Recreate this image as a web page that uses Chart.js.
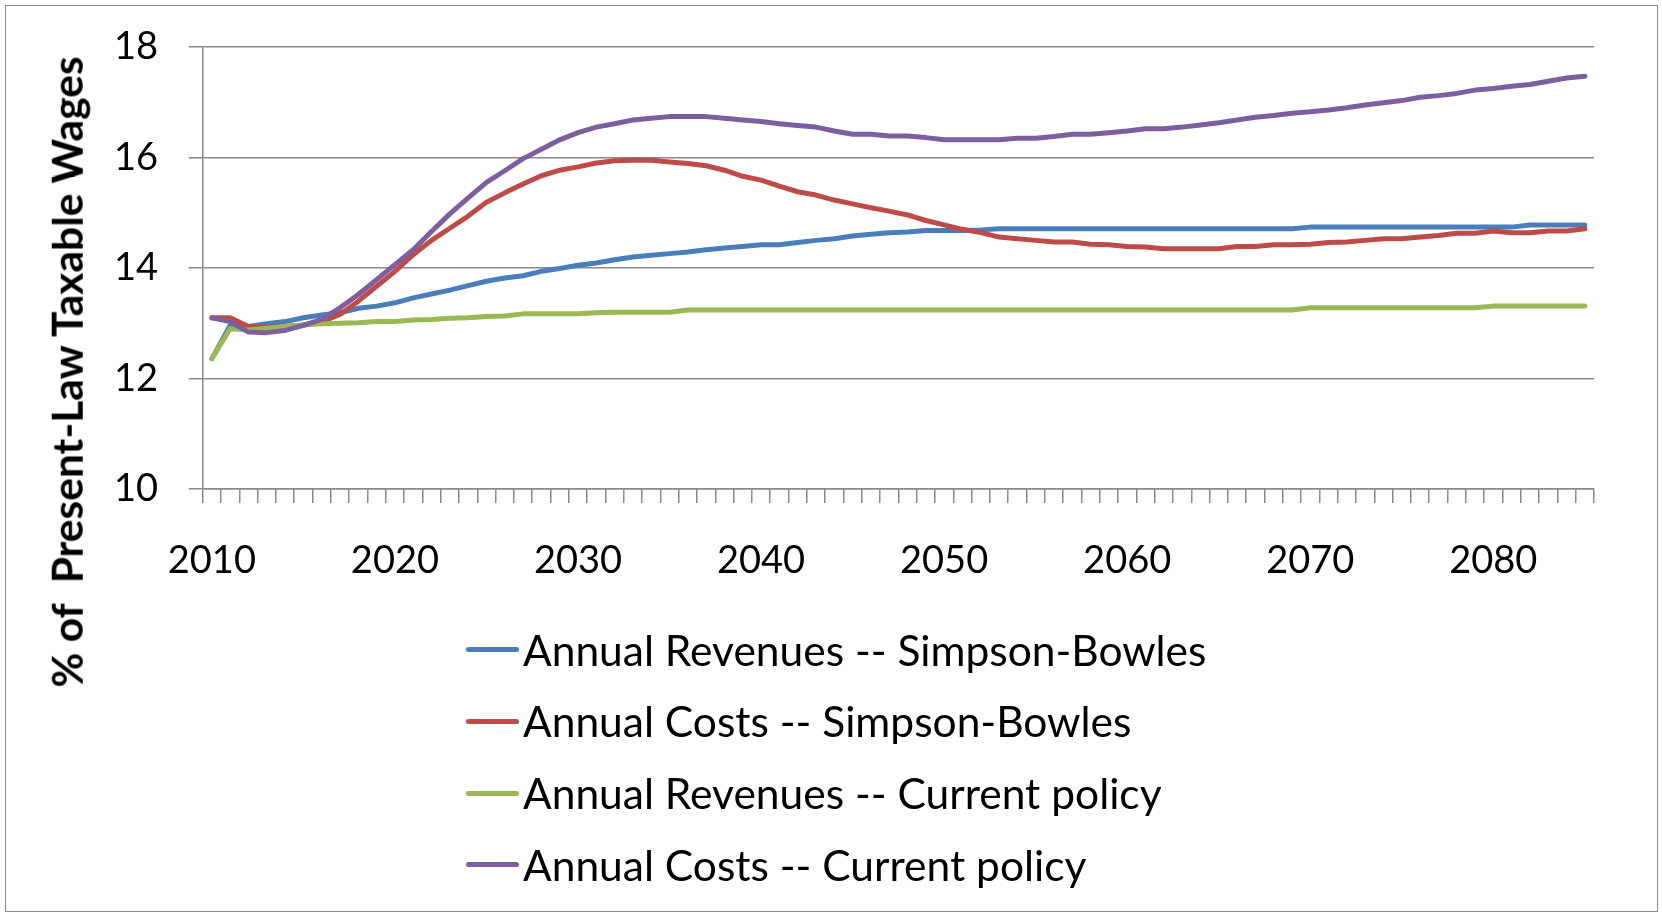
<!DOCTYPE html>
<html>
<head>
<meta charset="utf-8">
<script src="https://cdn.jsdelivr.net/npm/chart.js@4.4.0/dist/chart.umd.min.js"></script>
<style>
  body { margin: 0; background: #fff; }
  #wrap { position: relative; width: 1662px; height: 914px; overflow: hidden; }
  #frame { position: absolute; left: 5px; top: 5px; width: 1651px; height: 905px; border: 1.5px solid #8c8c8c; }
  #chart { position: absolute; left: 0; top: 0; }
  #yTitle {
    position: absolute; left: 67px; top: 372px;
    transform: translate(-50%, -50%) rotate(-90deg);
    font: bold 42.5px Lato, sans-serif; line-height: 1; white-space: pre; color: #000;
  }
  #legend { position: absolute; left: 466px; top: 614px; }
  .item { display: flex; align-items: center; height: 71.7px; }
  .swatch { width: 53px; height: 5px; border-radius: 2.5px; margin-right: 4px; }
  .label { font: 42.5px Lato, sans-serif; line-height: 1; color: #000; white-space: pre; }
</style>
</head>
<body>
<div id="wrap">
  <div id="frame"></div>
  <canvas id="chart" width="1662" height="914"></canvas>
  <div id="yTitle">% of  Present-Law Taxable Wages</div>
  <div id="legend"></div>
</div>
<script>
// 데이터
var years = [2010, 2011, 2012, 2013, 2014, 2015, 2016, 2017, 2018, 2019,
  2020, 2021, 2022, 2023, 2024, 2025, 2026, 2027, 2028, 2029,
  2030, 2031, 2032, 2033, 2034, 2035, 2036, 2037, 2038, 2039,
  2040, 2041, 2042, 2043, 2044, 2045, 2046, 2047, 2048, 2049,
  2050, 2051, 2052, 2053, 2054, 2055, 2056, 2057, 2058, 2059,
  2060, 2061, 2062, 2063, 2064, 2065, 2066, 2067, 2068, 2069,
  2070, 2071, 2072, 2073, 2074, 2075, 2076, 2077, 2078, 2079,
  2080, 2081, 2082, 2083, 2084, 2085];

var seriesNames = ['Annual Revenues -- Simpson-Bowles', 'Annual Costs -- Simpson-Bowles',
  'Annual Revenues -- Current policy', 'Annual Costs -- Current policy'];

var revenuesSB = [12.36, 12.96, 12.94, 12.99, 13.03, 13.10, 13.15, 13.19, 13.27, 13.31,
  13.37, 13.46, 13.53, 13.60, 13.68, 13.76, 13.82, 13.86, 13.94, 13.99,
  14.05, 14.09, 14.15, 14.20, 14.23, 14.26, 14.29, 14.33, 14.36, 14.39,
  14.42, 14.42, 14.46, 14.50, 14.53, 14.58, 14.61, 14.64, 14.65, 14.68,
  14.68, 14.68, 14.69, 14.71, 14.71, 14.71, 14.71, 14.71, 14.71, 14.71,
  14.71, 14.71, 14.71, 14.71, 14.71, 14.71, 14.71, 14.71, 14.71, 14.71,
  14.74, 14.74, 14.74, 14.74, 14.74, 14.74, 14.74, 14.74, 14.74, 14.74,
  14.74, 14.74, 14.78, 14.78, 14.78, 14.78];

var costsSB = [13.10, 13.10, 12.94, 12.93, 12.94, 12.97, 13.03, 13.16, 13.40, 13.67,
  13.94, 14.24, 14.50, 14.72, 14.94, 15.19, 15.36, 15.52, 15.67, 15.77,
  15.83, 15.90, 15.94, 15.95, 15.95, 15.92, 15.89, 15.85, 15.77, 15.66,
  15.59, 15.48, 15.38, 15.32, 15.23, 15.16, 15.09, 15.03, 14.96, 14.86,
  14.78, 14.70, 14.64, 14.56, 14.53, 14.50, 14.47, 14.47, 14.43, 14.42,
  14.39, 14.38, 14.35, 14.35, 14.35, 14.35, 14.39, 14.39, 14.42, 14.42,
  14.43, 14.46, 14.47, 14.50, 14.53, 14.53, 14.56, 14.59, 14.63, 14.63,
  14.67, 14.64, 14.64, 14.67, 14.67, 14.71];

var revenuesCP = [12.36, 12.90, 12.88, 12.91, 12.94, 12.97, 12.99, 13.00, 13.01, 13.03,
  13.03, 13.06, 13.07, 13.09, 13.10, 13.12, 13.13, 13.17, 13.17, 13.17,
  13.17, 13.19, 13.20, 13.20, 13.20, 13.20, 13.24, 13.24, 13.24, 13.24,
  13.24, 13.24, 13.24, 13.24, 13.24, 13.24, 13.24, 13.24, 13.24, 13.24,
  13.24, 13.24, 13.24, 13.24, 13.24, 13.24, 13.24, 13.24, 13.24, 13.24,
  13.24, 13.24, 13.24, 13.24, 13.24, 13.24, 13.24, 13.24, 13.24, 13.24,
  13.28, 13.28, 13.28, 13.28, 13.28, 13.28, 13.28, 13.28, 13.28, 13.28,
  13.31, 13.31, 13.31, 13.31, 13.31, 13.31];

var costsCP = [13.10, 13.03, 12.84, 12.83, 12.87, 12.96, 13.07, 13.28, 13.52, 13.79,
  14.06, 14.33, 14.66, 14.98, 15.27, 15.55, 15.76, 15.98, 16.15, 16.32,
  16.45, 16.55, 16.61, 16.68, 16.71, 16.74, 16.74, 16.74, 16.71, 16.68,
  16.65, 16.61, 16.58, 16.55, 16.48, 16.42, 16.42, 16.39, 16.39, 16.36,
  16.32, 16.32, 16.32, 16.32, 16.35, 16.35, 16.38, 16.42, 16.42, 16.45,
  16.48, 16.52, 16.52, 16.55, 16.59, 16.63, 16.68, 16.73, 16.76, 16.80,
  16.83, 16.86, 16.90, 16.95, 16.99, 17.03, 17.09, 17.12, 17.16, 17.22,
  17.25, 17.29, 17.32, 17.38, 17.44, 17.47];

var yTicks = [10, 12, 14, 16, 18];

var colors = ['#4A7EBB', '#BE4B48', '#98B954', '#7D5FA0'];
var axisGray = '#898989';

var seriesData = [revenuesSB, costsSB, revenuesCP, costsCP];
var drawOrder = [3, 2, 1, 0];

function makeChart() {
  Chart.defaults.font.family = 'Lato, sans-serif';
  Chart.defaults.color = '#000';

  var datasets = seriesData.map(function (d, i) {
    return {
      label: seriesNames[i],
      data: d,
      borderColor: colors[i],
      backgroundColor: colors[i],
      order: drawOrder[i]
    };
  });

  // 범례 (HTML)
  var legend = document.getElementById('legend');
  datasets.forEach(function (ds) {
    var row = document.createElement('div');
    row.className = 'item';
    var sw = document.createElement('div');
    sw.className = 'swatch';
    sw.style.background = ds.borderColor;
    var lb = document.createElement('span');
    lb.className = 'label';
    lb.textContent = ds.label;
    row.appendChild(sw);
    row.appendChild(lb);
    legend.appendChild(row);
  });

  // 차트 생성
  new Chart(document.getElementById('chart').getContext('2d'), {
    type: 'line',
    data: { labels: years, datasets: datasets },
    options: {
      responsive: false,
      animation: false,
      layout: { padding: { left: 114, right: 68, top: 47, bottom: 325 } },
      plugins: { legend: { display: false }, tooltip: { enabled: false } },
      elements: {
        point: { radius: 0 },
        line: { borderWidth: 5, tension: 0, borderJoinStyle: 'round', borderCapStyle: 'round' }
      },
      scales: {
        x: {
          offset: true,
          grid: { offset: true, drawOnChartArea: false, drawTicks: true, tickLength: 14, color: axisGray, lineWidth: 1.5 },
          border: { color: axisGray, width: 1.5 },
          ticks: {
            autoSkip: false, maxRotation: 0, minRotation: 0, padding: 35,
            color: '#000', font: { size: 38 },
            callback: function (v, i) { return years[i] % 10 === 0 ? String(years[i]) : ''; }
          },
          afterFit: function (s) { s.height = 100; }
        },
        y: {
          min: yTicks[0],
          max: yTicks[yTicks.length - 1],
          afterBuildTicks: function (s) { s.ticks = yTicks.map(function (v) { return { value: v }; }); },
          ticks: { padding: 0, crossAlign: 'far', color: '#000', font: { size: 38 } },
          grid: { color: axisGray, lineWidth: 1.5, tickLength: 14 },
          border: { color: axisGray, width: 1.5 },
          afterFit: function (s) { s.width = 88.7; }
        }
      }
    }
  });
}

if (document.fonts && document.fonts.load) {
  Promise.all([document.fonts.load('38px Lato'), document.fonts.load('bold 42px Lato')])
    .then(makeChart, makeChart);
} else {
  makeChart();
}
</script>
</body>
</html>
